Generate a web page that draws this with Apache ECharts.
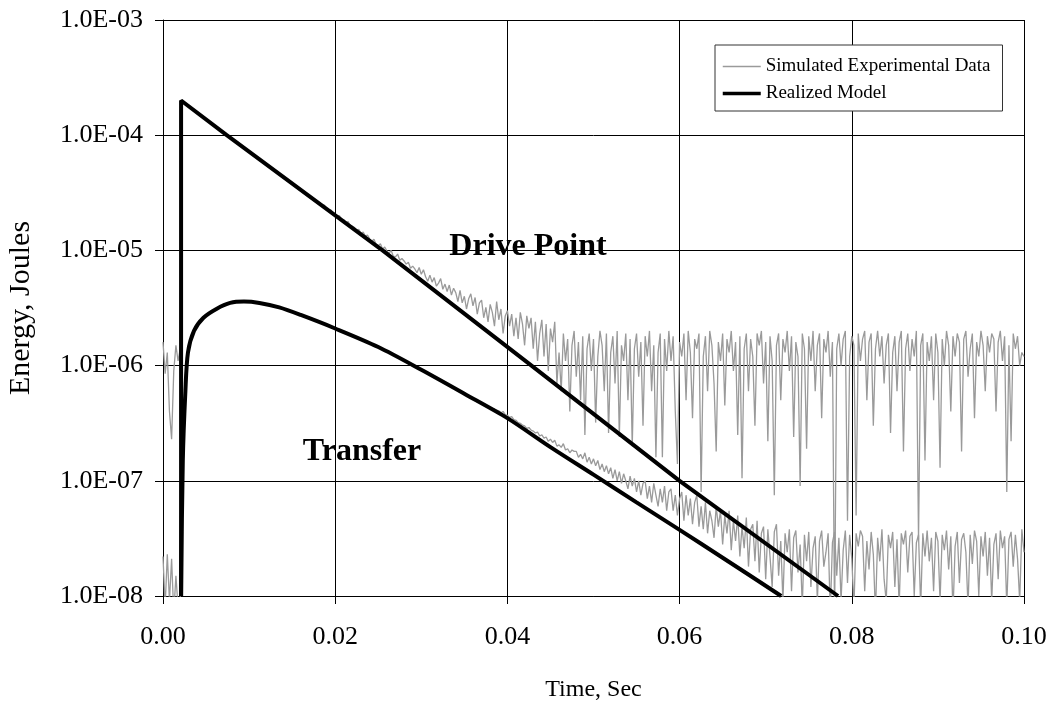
<!DOCTYPE html>
<html>
<head>
<meta charset="utf-8">
<script src="https://cdn.jsdelivr.net/npm/echarts@6/dist/echarts.min.js"></script>
<style>
html,body{margin:0;padding:0;background:#fff;}
#chart{width:1053px;height:702px;}
</style>
</head>
<body>
<div id="chart"></div>
<script>
// ---------------- data ----------------
const xTickLabels = ['0.00', '0.02', '0.04', '0.06', '0.08', '0.10'];
const yTickLabels = ['1.0E-08', '1.0E-07', '1.0E-06', '1.0E-05', '1.0E-04', '1.0E-03'];
const seriesNames = ['Simulated Experimental Data', 'Realized Model'];

// Realized model, drive point: [time s, energy J]
const driveModel = [[0.0021, 1e-8], [0.0021, 2e-4], [0.0074, 1e-4], [0.0255, 1e-5], [0.0428, 1e-6], [0.06, 1e-7], [0.0784, 1e-8]];
// Realized model, transfer: [time s, energy J]
const transferModel = [[0.0021, 1e-8], [0.0023, 1.5e-7], [0.0026, 6e-7], [0.0029, 1.3e-6], [0.0036, 2.0e-6], [0.0047, 2.6e-6],
  [0.0062, 3.1e-6], [0.0078, 3.5e-6], [0.0094, 3.6e-6], [0.0112, 3.5e-6], [0.0135, 3.2e-6], [0.016, 2.75e-6], [0.02, 2.1e-6],
  [0.025, 1.45e-6], [0.03, 9.2e-7], [0.035, 5.7e-7], [0.04, 3.5e-7], [0.045, 1.96e-7], [0.05, 1.13e-7], [0.055, 6.5e-8],
  [0.06, 3.75e-8], [0.065, 2.15e-8], [0.0718, 1e-8]];

// Simulated experimental data, drive point: leading part as [time, energy]
const driveDataLead = [[0, 1.6e-6], [0.00025, 8.5e-7], [0.0005, 1.3e-6], [0.00075, 4e-7], [0.001, 2.3e-7], [0.00125, 9e-7],
  [0.0015, 1.5e-6], [0.00175, 1.1e-6], [0.002, 1.4e-6], [0.0021, 2e-4], [0.005, 1.37e-4], [0.008, 9.3e-5], [0.011, 6.3e-5],
  [0.014, 4.25e-5], [0.017, 2.88e-5]];
// sampled part, every 0.00025 s starting at 0.018 s
const driveDataStart = 0.018;
const driveDataVals = [
  2.55e-5, 2.58e-5, 2.45e-5, 2.47e-5, 2.30e-5, 2.22e-5, 2.25e-5, 2.10e-5, 2.06e-5, 1.98e-5, 2.00e-5, 1.86e-5,
  1.85e-5, 1.74e-5, 1.78e-5, 1.62e-5, 1.62e-5, 1.58e-5, 1.49e-5, 1.52e-5, 1.40e-5, 1.44e-5, 1.33e-5, 1.36e-5,
  1.26e-5, 1.20e-5, 1.25e-5, 1.13e-5, 1.10e-5, 1.14e-5, 1.03e-5, 1.07e-5, 9.9e-6, 9.4e-6, 1.0e-5, 8.9e-6,
  8.8e-6, 9.3e-6, 8.2e-6, 8.5e-6, 8.1e-6, 7.6e-6, 7.9e-6, 7.0e-6, 7.3e-6, 6.9e-6, 6.4e-6, 7.1e-6,
  6.2e-6, 6.8e-6, 5.9e-6, 5.4e-6, 6.1e-6, 5.3e-6, 5.8e-6, 4.9e-6, 5.2e-6, 5.7e-6, 4.6e-6, 5.1e-6,
  4.4e-6, 5.0e-6, 4.1e-6, 4.7e-6, 4.3e-6, 3.6e-6, 4.5e-6, 3.5e-6, 4.0e-6, 3.1e-6, 3.8e-6, 4.2e-6,
  3.3e-6, 3.9e-6, 2.8e-6, 3.5e-6, 3.7e-6, 2.6e-6, 3.2e-6, 2.4e-6, 3.4e-6, 2.9e-6, 2.2e-6, 3.6e-6,
  2.5e-6, 3.1e-6, 1.9e-6, 2.7e-6, 3.0e-6, 2.2e-6, 2.8e-6, 1.8e-6, 2.6e-6, 1.7e-6, 2.9e-6, 2.3e-6,
  1.5e-6, 2.7e-6, 2.1e-6, 2.6e-6, 1.4e-6, 2.4e-6, 1.1e-6, 1.9e-6, 2.5e-6, 1.2e-6, 2.3e-6, 9e-7,
  2.1e-6, 1.6e-6, 2.4e-6, 7e-7,
  1.3e-6, 6e-7, 1.9e-6, 1.1e-6, 1.7e-6, 4e-7, 1.5e-6, 2.0e-6, 8e-7, 1.6e-6, 5e-7, 1.8e-6,
  2.5e-7, 1.4e-6, 1.9e-6, 9e-7, 1.7e-6, 3.2e-7, 1.2e-6, 2.0e-6, 1.5e-6, 6e-7, 1.9e-6, 2.6e-7,
  1.3e-6, 1.8e-6, 7e-7, 2.0e-6, 2.4e-7, 1.5e-6, 1.1e-6, 1.9e-6, 5e-7, 1.7e-6, 2.0e-7, 1.4e-6,
  1.9e-6, 8e-7, 1.6e-6, 3e-7, 1.8e-6, 1.2e-6, 2.0e-6, 6e-7, 1.5e-6, 1.6e-7, 1.3e-6, 1.9e-6,
  1.6e-7, 1.7e-6, 9e-7, 2.0e-6, 1.1e-6, 1.8e-6, 4e-7, 1.4e-7, 1.6e-6, 1.2e-6, 1.9e-6, 5e-7,
  2.0e-6, 1.3e-6, 3.5e-7, 1.7e-6, 1.4e-6, 1.9e-6, 8e-8, 1.2e-6, 1.8e-6, 6e-7, 2.0e-6, 1.5e-6,
  7e-7, 1.8e-7, 1.6e-6, 1.1e-6, 1.9e-6, 4.5e-7, 1.7e-6, 1.3e-6, 2.0e-6, 9e-7, 1.6e-6, 2.5e-7,
  1.8e-6, 1.05e-7, 1.4e-6, 1.9e-6, 6e-7, 1.7e-6, 1.2e-6, 3e-7, 1.9e-6, 1.5e-6, 2.0e-6, 7e-7,
  1.6e-6, 2.2e-7, 1.8e-6, 1.1e-6, 7.5e-8, 1.5e-6, 1.9e-6, 5e-7, 1.7e-6, 1.3e-6, 2.0e-6, 9e-7,
  1.8e-6, 2.4e-7, 1.6e-6, 1.2e-6, 9e-8, 1.9e-6, 1.4e-6, 1.9e-7, 1.8e-6, 1.1e-6, 2.0e-6, 6e-7,
  1.5e-6, 1.9e-6, 3.5e-7, 1.7e-6, 1.3e-6, 2.0e-6, 8e-7, 1.6e-6, 6e-9, 1.4e-6, 1.9e-6, 1.0e-6,
  1.7e-6, 2.0e-6, 4.5e-8, 1.2e-6, 1.8e-6, 1.5e-6, 5e-8, 1.9e-6, 1.1e-6, 1.7e-6, 2.0e-6, 5e-7,
  1.6e-6, 1.9e-6, 3e-7, 1.4e-6, 2.0e-6, 1.2e-6, 1.8e-6, 7e-7, 1.5e-6, 1.9e-6, 2.6e-7, 1.3e-6,
  1.8e-6, 6e-7, 1.6e-6, 2.0e-6, 1.8e-7, 1.4e-6, 1.9e-6, 9e-7, 1.7e-6, 1.2e-6, 2.0e-6, 3.1e-8,
  1.5e-6, 1.9e-6, 1.5e-7, 1.6e-6, 1.1e-6, 1.8e-6, 5e-7, 1.9e-6, 1.3e-6, 1.3e-7, 1.7e-6, 1.0e-6,
  2.0e-6, 1.5e-6, 4e-7, 1.8e-6, 1.2e-6, 1.9e-6, 1.6e-6, 1.8e-7, 1.7e-6, 2.0e-6, 8e-7, 1.4e-6,
  1.9e-6, 3.5e-7, 1.6e-6, 1.2e-6, 2.0e-6, 1.5e-6, 6e-7, 1.8e-6, 1.3e-6, 1.9e-6, 1.7e-6, 4e-7,
  1.6e-6, 2.0e-6, 1.1e-6, 1.8e-6, 8e-8, 1.5e-6, 2.2e-7, 1.9e-6, 1.4e-6, 1.8e-6, 1.0e-6, 1.3e-6,
  1.2e-6];

// Simulated experimental data, transfer: leading part as [time, energy]
const transferDataLead = [[0, 2.2e-8], [0.00025, 8e-9], [0.0005, 2.3e-8], [0.00075, 9e-9], [0.001, 2.1e-8], [0.00125, 7e-9],
  [0.0015, 1.5e-8], [0.00175, 8e-9], [0.002, 9e-9], [0.0021, 9e-9], [0.0023, 1.5e-7], [0.0026, 6e-7], [0.0029, 1.3e-6],
  [0.0036, 2.0e-6], [0.0047, 2.6e-6], [0.0062, 3.1e-6], [0.0078, 3.5e-6], [0.0094, 3.6e-6], [0.0112, 3.5e-6],
  [0.0135, 3.2e-6], [0.016, 2.75e-6], [0.02, 2.1e-6], [0.025, 1.45e-6], [0.03, 9.2e-7], [0.035, 5.75e-7]];
// sampled part, every 0.00025 s starting at 0.038 s
const transferDataStart = 0.038;
const transferDataVals = [
  4.3e-7, 4.25e-7, 4.2e-7, 4.1e-7, 4.05e-7, 3.9e-7, 4.0e-7, 3.75e-7, 3.7e-7, 3.55e-7, 3.6e-7, 3.4e-7,
  3.35e-7, 3.2e-7, 3.15e-7, 3.05e-7, 3.0e-7, 2.85e-7, 2.9e-7, 2.75e-7, 2.7e-7, 2.6e-7, 2.65e-7, 2.45e-7,
  2.5e-7, 2.35e-7, 2.4e-7, 2.2e-7, 2.3e-7, 2.15e-7, 2.25e-7, 2.0e-7, 2.05e-7, 1.95e-7, 2.1e-7, 1.85e-7,
  1.9e-7, 1.75e-7, 1.85e-7, 1.8e-7, 1.8e-7, 1.6e-7, 1.7e-7, 1.55e-7, 1.75e-7, 1.45e-7, 1.6e-7, 1.4e-7,
  1.55e-7, 1.35e-7, 1.5e-7, 1.25e-7, 1.4e-7, 1.2e-7, 1.35e-7, 1.15e-7, 1.3e-7, 1.05e-7, 1.25e-7, 1.0e-7,
  1.2e-7, 9.5e-8, 1.15e-7, 1.0e-7, 8.5e-8, 1.1e-7, 9.0e-8, 1.05e-7, 8.0e-8, 1.0e-7, 7.5e-8, 9.5e-8,
  1.0e-7, 7.0e-8, 9.0e-8, 6.5e-8, 9.5e-8, 7.5e-8, 6.0e-8, 8.5e-8, 6.5e-8, 9.0e-8, 5.5e-8, 8.0e-8,
  8.5e-8, 5.5e-8, 7.5e-8, 5.0e-8, 7.0e-8, 8.0e-8, 4.5e-8, 7.5e-8, 5.0e-8, 7.0e-8, 4.2e-8, 6.5e-8,
  7.5e-8, 4.0e-8, 6.0e-8, 3.8e-8, 6.5e-8, 3.5e-8, 5.5e-8, 4.5e-8, 3.2e-8, 6.0e-8, 4.0e-8, 5.5e-8,
  2.8e-8, 5.0e-8, 3.5e-8, 5.5e-8, 2.5e-8, 4.5e-8, 3.0e-8, 5.0e-8, 2.2e-8, 4.0e-8, 2.6e-8, 4.8e-8,
  1.8e-8, 3.8e-8, 4.2e-8, 2.0e-8, 4.5e-8, 1.6e-8, 3.5e-8, 4.0e-8, 1.4e-8, 3.8e-8, 2.2e-8, 1.2e-8,
  3.6e-8, 4.2e-8, 1.5e-8, 3.0e-8, 9e-9, 3.5e-8, 2.4e-8, 3.8e-8, 1.1e-8, 3.2e-8, 3.7e-8, 1.6e-8,
  2.8e-8, 8e-9, 3.4e-8, 2.0e-8, 3.6e-8, 1.2e-8, 2.6e-8, 3.3e-8, 9e-9, 3.0e-8, 3.7e-8, 1.8e-8,
  2.4e-8, 3.5e-8, 7e-9, 2.9e-8, 3.6e-8, 1.5e-8, 3.2e-8, 9e-9, 2.5e-8, 3.7e-8, 1.3e-8, 3.4e-8,
  2.1e-8, 8e-9, 3.5e-8, 2.7e-8, 3.7e-8, 3.3e-8, 1.1e-8, 3.0e-8, 1.7e-8, 3.6e-8, 2.3e-8, 7e-9,
  3.2e-8, 2.0e-8, 3.8e-8, 1.4e-8, 9e-9, 3.4e-8, 2.6e-8, 3.6e-8, 1.2e-8, 3.1e-8, 8e-9, 3.5e-8,
  2.8e-8, 3.7e-8, 1.6e-8, 3.3e-8, 3.6e-8, 1.0e-8, 2.9e-8, 3.4e-8, 8e-9, 3.5e-8, 2.2e-8, 3.7e-8,
  2.0e-8, 3.2e-8, 1.1e-8, 3.6e-8, 3.0e-8, 9e-9, 3.4e-8, 2.5e-8, 3.7e-8, 1.7e-8, 3.3e-8, 7e-9,
  2.7e-8, 3.6e-8, 1.3e-8, 3.1e-8, 3.5e-8, 2.4e-8, 8e-9, 3.4e-8, 1.9e-8, 3.7e-8, 3.0e-8, 1.0e-8,
  3.3e-8, 2.2e-8, 3.6e-8, 1.5e-8, 3.2e-8, 9e-9, 2.8e-8, 3.5e-8, 1.4e-8, 3.7e-8, 2.6e-8, 3.3e-8,
  8e-9, 3.1e-8, 3.6e-8, 1.8e-8, 3.4e-8, 2.1e-8, 9e-9, 3.8e-8,
  2.4e-8];

const SAMPLE_STEP = 0.00025;
// ---------------- build ----------------
function sampled(start, vals) {
  return vals.map((v, i) => [+(start + i * SAMPLE_STEP).toFixed(5), v]);
}
const driveData = driveDataLead.concat(sampled(driveDataStart, driveDataVals));
const transferData = transferDataLead.concat(sampled(transferDataStart, transferDataVals));

const FONT = "'Liberation Serif', 'Times New Roman', serif";
const chart = echarts.init(document.getElementById('chart'), null, {renderer: 'canvas'});

const dataLine = {color: '#9a9a9a', width: 1.3};
const modelLine = {color: '#000', width: 4};

chart.setOption({
  animation: false,
  backgroundColor: '#fff',
  grid: {left: 163, right: 29, top: 20, bottom: 106, containLabel: false, outerBoundsMode: 'none'},
  legend: {
    show: true,
    data: [
      {name: seriesNames[0], lineStyle: {width: 1.3, color: '#9a9a9a'}},
      {name: seriesNames[1], lineStyle: {width: 3.5, color: '#000'}}
    ],
    orient: 'vertical',
    left: 715, top: 45,
    padding: [12, 12, 8, 6],
    itemGap: 8, itemWidth: 38, itemHeight: 18,
    backgroundColor: '#fff',
    borderColor: '#333', borderWidth: 1,
    itemStyle: {opacity: 0},
    textStyle: {fontFamily: FONT, fontSize: 19, color: '#000'},
    z: 20
  },
  xAxis: {
    type: 'value', min: 0, max: 0.1, interval: 0.02,
    name: 'Time, Sec', nameLocation: 'middle', nameGap: 82,
    nameTextStyle: {fontFamily: FONT, fontSize: 24, color: '#000'},
    axisLine: {show: true, lineStyle: {color: '#000', width: 1}},
    axisTick: {show: true, inside: false, length: 8, lineStyle: {color: '#000'}},
    axisLabel: {fontFamily: FONT, fontSize: 26, color: '#000', margin: 28,
      formatter: v => xTickLabels[Math.round(v / 0.02)]},
    splitLine: {show: true, lineStyle: {color: '#000', width: 1}}
  },
  yAxis: {
    type: 'log', logBase: 10, min: 1e-8, max: 1e-3,
    name: 'Energy, Joules', nameLocation: 'middle', nameGap: 127, nameRotate: 90,
    nameTextStyle: {fontFamily: FONT, fontSize: 30, color: '#000'},
    axisLine: {show: true, lineStyle: {color: '#000', width: 1}},
    axisTick: {show: true, inside: false, length: 8, lineStyle: {color: '#000'}},
    minorTick: {show: false},
    axisLabel: {fontFamily: FONT, fontSize: 26, color: '#000', margin: 20,
      formatter: v => yTickLabels[Math.round(Math.log10(v)) + 8]},
    splitLine: {show: true, lineStyle: {color: '#000', width: 1}}
  },
  series: [
    {name: seriesNames[0], type: 'line', data: driveData, showSymbol: false, symbol: 'none',
      lineStyle: dataLine, itemStyle: {color: dataLine.color}, z: 2, clip: true},
    {name: seriesNames[0], type: 'line', data: transferData, showSymbol: false, symbol: 'none',
      lineStyle: dataLine, itemStyle: {color: dataLine.color}, z: 2, clip: true},
    {name: seriesNames[1], type: 'line', data: driveModel, showSymbol: false, symbol: 'none',
      lineStyle: modelLine, itemStyle: {color: '#000'}, z: 3, clip: true},
    {name: seriesNames[1], type: 'line', data: transferModel, showSymbol: false, symbol: 'none', smooth: 0.3,
      lineStyle: modelLine, itemStyle: {color: '#000'}, z: 3, clip: true}
  ],
  graphic: [
    {type: 'group', z: 30, children: [
      {type: 'rect', shape: {x: 420, y: 217, width: 216, height: 49}, style: {fill: '#fff'}},
      {type: 'text', x: 528, y: 247, style: {text: 'Drive Point', font: "bold 32px 'Liberation Serif'", fill: '#000',
        textAlign: 'center', textVerticalAlign: 'middle'}}
    ]},
    {type: 'group', z: 30, children: [
      {type: 'rect', shape: {x: 273, y: 423, width: 179, height: 49}, style: {fill: '#fff'}},
      {type: 'text', x: 362, y: 452, style: {text: 'Transfer', font: "bold 32px 'Liberation Serif'", fill: '#000',
        textAlign: 'center', textVerticalAlign: 'middle'}}
    ]}
  ]
});
</script>
</body>
</html>
